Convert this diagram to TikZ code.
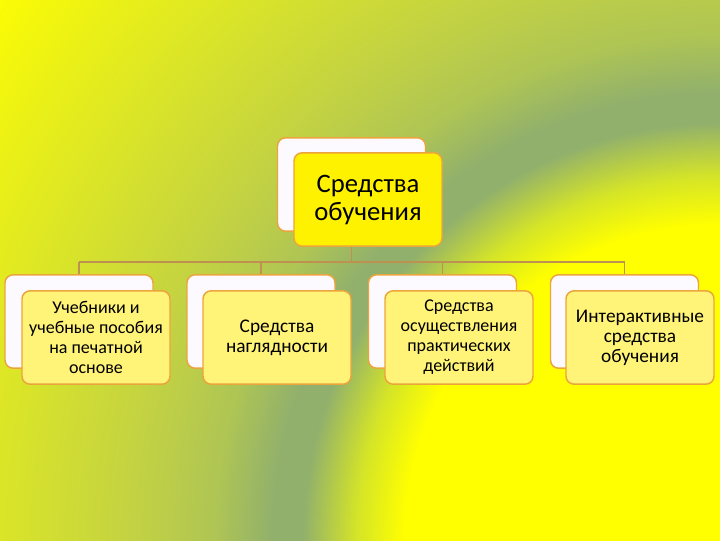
\documentclass[tikz,border=0pt]{standalone}
\usepackage{fontspec}
\setmainfont{Carlito}
\definecolor{bgyellow}{RGB}{255,255,0}
\definecolor{bgmid}{RGB}{212,228,40}
\definecolor{bgband}{RGB}{145,176,108}
\definecolor{bgleaf}{RGB}{175,197,84}
\definecolor{bgolive}{RGB}{195,210,66}
\definecolor{bglight}{RGB}{220,230,38}
\definecolor{boxline}{RGB}{236,164,60}
\definecolor{linkline}{RGB}{190,145,80}
\definecolor{backfill}{RGB}{252,250,255}
\definecolor{topfill}{RGB}{255,242,0}
\definecolor{lowfill}{RGB}{255,244,120}
\pgfdeclareradialshading{bgshade}{\pgfpoint{0bp}{0bp}}{%
  color(0bp)=(bgyellow); color(236bp)=(bgyellow); color(272bp)=(bgmid);
  color(312bp)=(bgband); color(334bp)=(bgband); color(378bp)=(bgleaf);
  color(440bp)=(bgolive); color(545bp)=(bglight); color(690bp)=(bgyellow);
  color(700bp)=(bgyellow)}

\begin{document}
\begin{tikzpicture}[x=0.75pt,y=-0.75pt,
  backbox/.style={draw=boxline, line width=1.1pt, fill=backfill, rounded corners=6pt,
    minimum width=111pt, minimum height=70pt, inner sep=0pt},
  frontbox/.style={backbox, fill=lowfill, align=center, font=\fontsize{13.5}{15}\selectfont},
  topfront/.style={frontbox, fill=topfill, font=\fontsize{20}{21}\selectfont},
  link/.style={draw=linkline, line width=1.1pt}]
\useasboundingbox (0,0) rectangle (720,540);
%----background--------------------------------
\begin{scope}
\clip (0,0) rectangle (720,540);
\node[inner sep=0pt] (bgfill) at (720,540) {\pgfuseshading{bgshade}};
\end{scope}
%----connectors--------------------------------
\node[backbox] (t0) at (351.5,184.5) {};
\coordinate (hub) at (351.5,262);
\foreach \x/\n in {79/1,261/2,442.5/3,624.5/4}
  \coordinate (d\n) at (\x,262);
\draw[link] (t0.south) -- (hub);
\draw[link] (d1) -- (d4);
%----back boxes--------------------------------
\foreach \x/\n in {79/1,261/2,442.5/3,624.5/4}
  \node[backbox] (b\n) at (\x,321.5) {};
\foreach \n in {1,2,3,4}
  \draw[link] (d\n) -- (b\n.north);
%----front boxes-------------------------------
\node[topfront] (t1) at (368,199.5) {Средства\\обучения};
\node[frontbox] (f1) at (96,337.5) {Учебники и\\учебные пособия\\на печатной\\основе};
\node[frontbox, font=\fontsize{14.5}{15}\selectfont] (f2) at (277,337.5) {Средства\\наглядности};
\node[frontbox] (f3) at (459,337.5) {Средства\\осуществления\\практических\\действий};
\node[frontbox, font=\fontsize{14.5}{15}\selectfont] (f4) at (640,337.5) {Интерактивные\\средства\\обучения};
\end{tikzpicture}
\end{document}
